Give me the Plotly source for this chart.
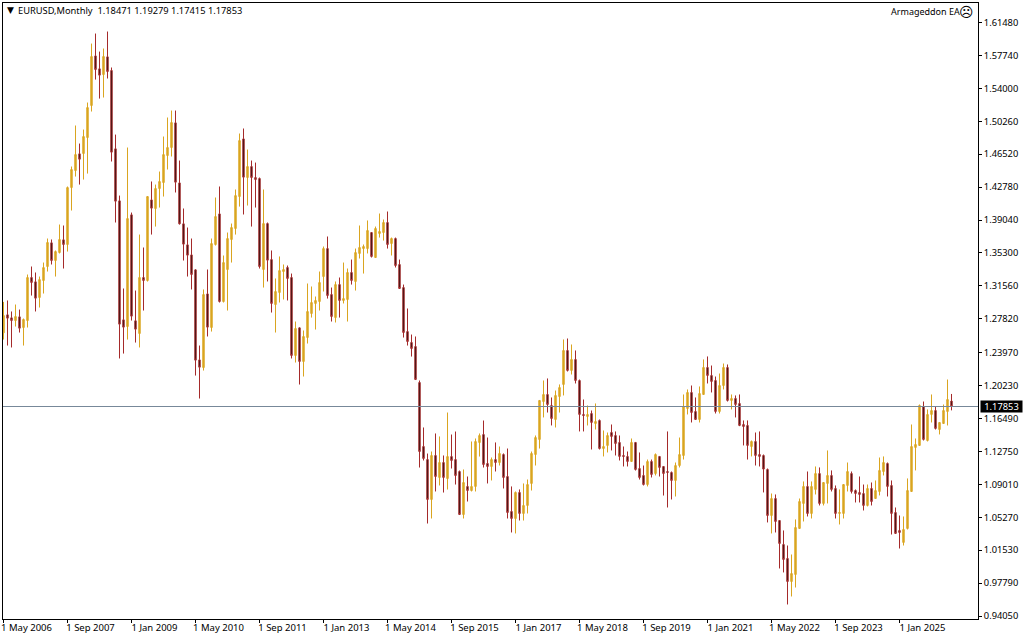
import plotly.graph_objects as go

opens = [1.2622,1.2827,1.2793,1.2762,1.2804,1.2683,1.2762,1.3251,1.3202,1.3024,
1.3217,1.3376,1.3645,1.3444,1.3535,1.3679,1.3626,1.4273,1.4466,1.4656,
1.4660,1.4841,1.5205,1.5769,1.5622,1.5557,1.5758,1.5603,1.4713,1.4122,
1.2770,1.2694,1.3963,1.2759,1.2615,1.3251,1.3217,1.4133,1.4035,1.4262,
1.4330,1.4637,1.4728,1.5008,1.4326,1.3861,1.3622,1.3508,1.3338,1.2315,
1.2228,1.3065,1.2683,1.3626,1.3974,1.2978,1.3342,1.3683,1.3808,1.4171,
1.4826,1.4387,1.4512,1.4387,1.4376,1.3342,1.3864,1.3455,1.2944,1.3081,
1.3319,1.3365,1.3251,1.2365,1.2679,1.2297,1.2569,1.2842,1.2956,1.2978,
1.3262,1.3580,1.3058,1.2796,1.3171,1.2990,1.3001,1.3308,1.3206,1.3524,
1.3580,1.3580,1.3762,1.3478,1.3751,1.3762,1.3876,1.3637,1.3694,1.3399,
1.3137,1.2637,1.2513,1.2467,1.2058,1.1331,1.1183,1.0729,1.1229,1.0979,
1.1149,1.0967,1.1217,1.1183,1.1047,1.0558,1.0877,1.0831,1.0877,1.1376,
1.1467,1.1138,1.1104,1.1183,1.1149,1.1240,1.0990,1.0593,1.0513,1.0809,
1.0570,1.0661,1.0911,1.1240,1.1411,1.1842,1.1922,1.1797,1.1638,1.1899,
1.2036,1.2422,1.2195,1.2320,1.2081,1.1695,1.1672,1.1706,1.1592,1.1627,
1.1308,1.1343,1.1490,1.1456,1.1377,1.1229,1.1218,1.1161,1.1377,1.1081,
1.1002,1.0899,1.1161,1.1024,1.1218,1.1104,1.1047,1.1036,1.0945,1.1115,
1.1229,1.1763,1.1945,1.1729,1.1638,1.1922,1.2229,1.2138,1.2081,1.1729,
1.2024,1.2229,1.1854,1.1877,1.1820,1.1581,1.1570,1.1331,1.1388,1.1240,
1.1229,1.1070,1.0547,1.0740,1.0490,1.0218,1.0059,0.9797,0.9877,1.0400,
1.0684,1.0877,1.0570,1.0843,1.1024,1.0684,1.0911,1.1002,1.0854,1.0570,
1.0570,1.0888,1.1024,1.0831,1.0809,1.0797,1.0661,1.0854,1.0740,1.0820,
1.1047,1.1138,1.0888,1.0581,1.0377,1.0241,1.0400,1.0820,1.1320,1.1343,
1.1786,1.1399,1.1695,1.1740,1.1524,1.1592,1.1729,1.18471]

highs = [1.2974,1.2990,1.2865,1.2944,1.2887,1.2785,1.3285,1.3376,1.3308,1.3262,
1.3421,1.3694,1.3683,1.3558,1.3853,1.3842,1.4285,1.4512,1.4978,1.4773,
1.4932,1.5239,1.5909,1.6023,1.5818,1.5853,1.6046,1.5637,1.4875,1.4182,
1.3126,1.4728,1.3989,1.3103,1.3739,1.3592,1.4171,1.4342,1.4307,1.4455,
1.4853,1.5069,1.5148,1.5148,1.4580,1.4035,1.3819,1.3694,1.3342,1.2478,
1.3115,1.3342,1.3694,1.4160,1.4285,1.3501,1.3762,1.3864,1.4251,1.4887,
1.4944,1.4705,1.4580,1.4557,1.4387,1.4251,1.3876,1.3558,1.3240,1.3490,
1.3399,1.3387,1.3296,1.2751,1.2683,1.2649,1.3183,1.3149,1.3035,1.3319,
1.3603,1.3717,1.3137,1.3206,1.3251,1.3421,1.3353,1.3455,1.3580,1.3842,
1.3626,1.3899,1.3762,1.3830,1.3978,1.3910,1.4001,1.3705,1.3705,1.3455,
1.3171,1.2899,1.2603,1.2581,1.2081,1.1547,1.1251,1.1274,1.1479,1.1445,
1.1229,1.1717,1.1467,1.1501,1.1058,1.1070,1.0990,1.1388,1.1422,1.1479,
1.1626,1.1433,1.1206,1.1377,1.1331,1.1252,1.1308,1.0877,1.0820,1.0843,
1.0911,1.0956,1.1274,1.1456,1.1854,1.2081,1.2104,1.1888,1.1967,1.2036,
1.2547,1.2558,1.2490,1.2422,1.2092,1.1865,1.1797,1.1740,1.1820,1.1638,
1.1513,1.1490,1.1581,1.1502,1.1456,1.1331,1.1274,1.1422,1.1377,1.1263,
1.1115,1.1183,1.1183,1.1252,1.1218,1.1104,1.1502,1.1047,1.1149,1.1433,
1.1922,1.1979,1.2024,1.1888,1.2013,1.2320,1.2354,1.2251,1.2126,1.2160,
1.2274,1.2263,1.1922,1.1911,1.1922,1.1627,1.1627,1.1399,1.1490,1.1502,
1.1240,1.1081,1.0797,1.0786,1.0490,1.0377,1.0206,1.0104,1.0502,1.0740,
1.0934,1.1047,1.0934,1.1104,1.1093,1.0922,1.1286,1.1059,1.0888,1.0843,
1.0899,1.1149,1.1047,1.0843,1.0990,1.0899,1.0899,1.0922,1.0945,1.1206,
1.1218,1.1149,1.0945,1.0638,1.0547,1.0536,1.0968,1.1581,1.1422,1.1808,
1.1842,1.1752,1.1922,1.1786,1.1604,1.1808,1.2092,1.19279]

lows = [1.2546,1.2478,1.2456,1.2694,1.2626,1.2478,1.2683,1.3046,1.2865,1.2910,
1.3069,1.3319,1.3399,1.3262,1.3524,1.3353,1.3546,1.4012,1.4398,1.4307,
1.4364,1.4432,1.5137,1.5500,1.5284,1.5296,1.5512,1.4569,1.3876,1.2331,
1.2387,1.2546,1.2762,1.2512,1.2456,1.2876,1.3205,1.3739,1.3830,1.4046,
1.4171,1.4478,1.4626,1.4217,1.3853,1.3444,1.3262,1.3115,1.2137,1.1876,
1.2194,1.2581,1.2637,1.3614,1.2967,1.2967,1.2876,1.3421,1.3739,1.4057,
1.3967,1.4069,1.3830,1.4046,1.3353,1.3137,1.3206,1.2853,1.2626,1.2967,
1.3001,1.2990,1.2331,1.2285,1.2035,1.2126,1.2501,1.2796,1.2660,1.2876,
1.3092,1.3012,1.2751,1.2740,1.2796,1.2956,1.2751,1.3171,1.3103,1.3467,
1.3296,1.3524,1.3478,1.3478,1.3705,1.3671,1.3580,1.3501,1.3365,1.3126,
1.2569,1.2478,1.2353,1.2092,1.1092,1.1172,1.0456,1.0513,1.0820,1.0888,
1.0808,1.0842,1.1081,1.0899,1.0558,1.0513,1.0706,1.0820,1.0820,1.1217,
1.1092,1.0911,1.0945,1.1047,1.1115,1.0854,1.0513,1.0354,1.0343,1.0490,
1.0490,1.0570,1.0831,1.1115,1.1308,1.1661,1.1717,1.1570,1.1547,1.1717,
1.1911,1.2183,1.2149,1.2047,1.1502,1.1502,1.1570,1.1297,1.1524,1.1297,
1.1218,1.1263,1.1286,1.1229,1.1172,1.1104,1.1104,1.1161,1.1058,1.0956,
1.0888,1.0877,1.0979,1.1002,1.0990,1.0774,1.0638,1.0729,1.0763,1.1093,
1.1183,1.1695,1.1604,1.1638,1.1604,1.1922,1.2047,1.1945,1.1706,1.1706,
1.1979,1.1842,1.1752,1.1661,1.1562,1.1343,1.1183,1.1218,1.1115,1.1104,
1.0809,1.0468,1.0343,1.0354,0.9945,0.9900,0.9536,0.9627,0.9729,1.0400,
1.0479,1.0536,1.0513,1.0786,1.0661,1.0661,1.0684,1.0820,1.0513,1.0445,
1.0513,1.0820,1.0797,1.0695,1.0695,1.0604,1.0650,1.0661,1.0740,1.0775,
1.1002,1.0763,1.0331,1.0343,1.0172,1.0206,1.0388,1.0820,1.1059,1.1343,
1.1399,1.1388,1.1604,1.1524,1.1468,1.1592,1.1570,1.17415]

closes = [1.2819,1.2789,1.2762,1.2808,1.2675,1.2774,1.3251,1.3194,1.3016,1.3228,
1.3364,1.3649,1.3444,1.3546,1.3683,1.3626,1.4273,1.4478,1.4648,1.4595,
1.4853,1.5182,1.5762,1.5614,1.5550,1.5762,1.5591,1.4675,1.4118,1.2721,
1.2687,1.3921,1.2812,1.2664,1.3251,1.3217,1.4171,1.4039,1.4262,1.4342,
1.4648,1.4728,1.5012,1.4334,1.3861,1.3630,1.3505,1.3285,1.2312,1.2232,
1.3058,1.2687,1.3637,1.3944,1.2978,1.3421,1.3694,1.3819,1.4182,1.4807,
1.4391,1.4512,1.4387,1.4364,1.3376,1.3864,1.3448,1.2956,1.3092,1.3330,
1.3342,1.3240,1.2365,1.2672,1.2297,1.2581,1.2865,1.2967,1.2990,1.3194,
1.3580,1.3046,1.2808,1.3171,1.2990,1.3012,1.3308,1.3217,1.3535,1.3592,
1.3603,1.3785,1.3490,1.3808,1.3774,1.3876,1.3626,1.3694,1.3387,1.3126,
1.2626,1.2524,1.2444,1.2092,1.1274,1.1195,1.0729,1.1229,1.0990,1.1149,
1.0979,1.1217,1.1172,1.1001,1.0558,1.0922,1.0831,1.0877,1.1388,1.1456,
1.1126,1.1104,1.1183,1.1149,1.1252,1.0979,1.0581,1.0513,1.0809,1.0570,
1.0661,1.0899,1.1252,1.1433,1.1854,1.1922,1.1808,1.1649,1.1911,1.2001,
1.2422,1.2195,1.2320,1.2081,1.1695,1.1683,1.1695,1.1604,1.1615,1.1308,
1.1331,1.1456,1.1445,1.1365,1.1218,1.1218,1.1161,1.1377,1.1070,1.0979,
1.0899,1.1161,1.1013,1.1240,1.1093,1.1024,1.1036,1.0945,1.1115,1.1240,
1.1786,1.1945,1.1717,1.1638,1.1933,1.2229,1.2138,1.2070,1.1729,1.2024,
1.2229,1.1854,1.1877,1.1808,1.1570,1.1558,1.1343,1.1388,1.1229,1.1218,
1.1074,1.0547,1.0740,1.0479,1.0229,1.0047,0.9797,0.9888,1.0411,1.0706,
1.0877,1.0570,1.0877,1.1024,1.0684,1.0922,1.1002,1.0843,1.0570,1.0581,
1.0899,1.1047,1.0820,1.0797,1.0786,1.0661,1.0854,1.0706,1.0831,1.1059,
1.1149,1.0877,1.0570,1.0343,1.0354,1.0388,1.0831,1.1331,1.1354,1.1797,
1.1411,1.1695,1.1740,1.1536,1.1604,1.1740,1.1865,1.17853]

bar_index = list(range(len(opens)))
x_tick_bars = [0,16,32,48,64,80,96,112,128,144,160,176,192,208,224]
x_tick_labels = ['1 May 2006','1 Sep 2007','1 Jan 2009','1 May 2010','1 Sep 2011',
                 '1 Jan 2013','1 May 2014','1 Sep 2015','1 Jan 2017','1 May 2018',
                 '1 Sep 2019','1 Jan 2021','1 May 2022','1 Sep 2023','1 Jan 2025']
y_ticks = [1.6148,1.5774,1.54,1.5026,1.4652,1.4278,1.3904,1.353,1.3156,1.2782,
           1.2397,1.2023,1.1649,1.1275,1.0901,1.0527,1.0153,0.9779,0.9405]
last_price = 1.17853
title_text = 'EURUSD,Monthly  1.18471 1.19279 1.17415 1.17853'
ea_text = 'Armageddon EA'

FONT = 'Noto Sans'
fig = go.Figure(go.Candlestick(
    x=bar_index, open=opens, high=highs, low=lows, close=closes,
    increasing=dict(line=dict(color='#DAA520', width=1), fillcolor='#DAA520'),
    decreasing=dict(line=dict(color='#A52A2A', width=1), fillcolor='#000000'),
    whiskerwidth=0, hoverinfo='skip', showlegend=False))

fig.update_layout(
    width=1024, height=640, autosize=False,
    margin=dict(l=3, r=46, t=3, b=21, pad=0),
    paper_bgcolor='white', plot_bgcolor='white',
    boxgap=0.5, showlegend=False,
    font=dict(family=FONT, size=10, color='black'),
    xaxis=dict(range=[-0.125, 243.625], automargin=False, rangeslider=dict(visible=False),
               showgrid=False, zeroline=False,
               tickmode='array', tickvals=x_tick_bars, ticktext=x_tick_labels, ticks='outside',
               ticklen=3, tickwidth=1, tickcolor='black', ticklabelshift=23, ticklabelstandoff=-3,
               ticklabeloverflow='allow',
               showline=True, linecolor='black', linewidth=1, mirror=True,
               tickfont=dict(family=FONT, size=9.5, color='black')),
    yaxis=dict(range=[0.9371, 1.6370], automargin=False, side='right', showgrid=False, zeroline=False,
               tickmode='array', tickvals=y_ticks, ticktext=['%.5f' % v for v in y_ticks],
               ticks='outside', ticklen=3, tickwidth=1, tickcolor='black',
               showline=True, linecolor='black', linewidth=1, mirror=True,
               tickfont=dict(family=FONT, size=9.3, color='black')),
    shapes=[dict(type='line', xref='paper', x0=0, x1=1, yref='y', y0=last_price, y1=last_price,
                 line=dict(color='#778899', width=1), layer='above')],
    annotations=[
        dict(xref='paper', yref='y', x=1.002, y=last_price, xanchor='left', yanchor='middle',
             text='%.5f' % last_price, showarrow=False, bgcolor='black', width=41, height=11,
             align='center', font=dict(family=FONT, size=9.3, color='white'), borderpad=0),
        dict(xref='paper', yref='paper', x=0.013, y=0.9985, yshift=2, xanchor='left', yanchor='top',
             text=title_text, showarrow=False, font=dict(family=FONT, size=9.3, color='black')),
        dict(xref='paper', yref='paper', x=0.0025, y=0.9985, yshift=1, xanchor='left', yanchor='top',
             text='▼', showarrow=False, font=dict(family='DejaVu Sans', size=9, color='black')),
        dict(xref='paper', yref='paper', x=0.9835, y=0.9985, yshift=1, xanchor='right', yanchor='top',
             text=ea_text, showarrow=False, font=dict(family=FONT, size=9, color='black')),
        dict(xref='paper', yref='paper', x=0.9975, y=0.9985, yshift=2, xanchor='right', yanchor='top',
             text='☹', showarrow=False, font=dict(family='DejaVu Sans', size=14, color='black')),
    ])

fig.write_html('out.html', config={'displayModeBar': False},
               post_script="document.body.style.margin='0';document.body.style.overflow='hidden';")
